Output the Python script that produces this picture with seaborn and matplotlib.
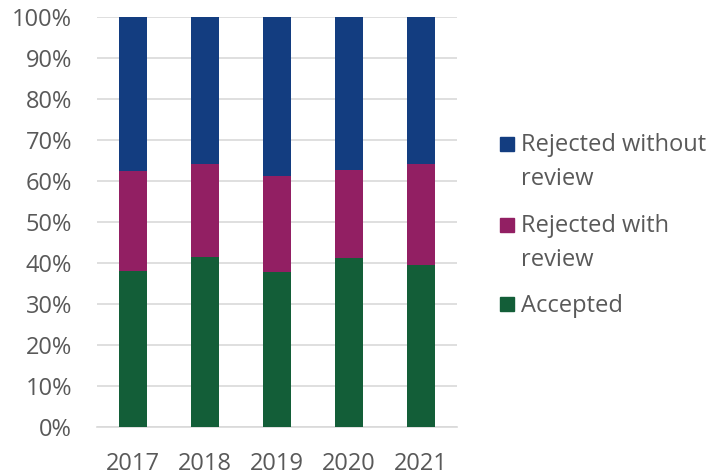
import matplotlib
matplotlib.use("Agg")
import matplotlib.pyplot as plt
from matplotlib.lines import Line2D
from matplotlib.legend_handler import HandlerLine2D
import seaborn as sns
import pandas as pd
import numpy as np

years = ["2017", "2018", "2019", "2020", "2021"]
accepted = [38.0, 41.4, 37.9, 41.3, 39.6]
rejected_with_review = [24.4, 22.8, 23.2, 21.4, 24.6]
rejected_without_review = [37.6, 35.8, 38.9, 37.3, 35.8]
series_labels = ["Rejected without\nreview", "Rejected with\nreview", "Accepted"]

c_green = "#135E38"
c_purple = "#921F63"
c_blue = "#133D80"
text_col = "#595959"

sns.set_theme(style="white")
plt.rcParams["font.family"] = ["Open Sans", "DejaVu Sans"]

df = pd.DataFrame({
    "year": years,
    "acc": accepted,
    "rwr": rejected_with_review,
    "rwo": rejected_without_review,
})
df["top"] = df["acc"] + df["rwr"] + df["rwo"]
df["mid"] = df["acc"] + df["rwr"]

fig = plt.figure(figsize=(7.12, 4.76), dpi=100)
ax = fig.add_axes([97/712, 1 - 427/476, 360/712, 410/476])

w = 0.4
sns.barplot(data=df, x="year", y="top", color=c_blue, width=w, ax=ax,
            saturation=1, edgecolor="none", zorder=3)
sns.barplot(data=df, x="year", y="mid", color=c_purple, width=w, ax=ax,
            saturation=1, edgecolor="none", zorder=3)
sns.barplot(data=df, x="year", y="acc", color=c_green, width=w, ax=ax,
            saturation=1, edgecolor="none", zorder=3)

ax.set_xlim(-0.5, 4.5)
ax.set_ylim(0, 100)
ax.set_yticks(np.arange(0, 101, 10))
ax.set_yticklabels([f"{v}%" for v in range(0, 101, 10)])
ax.yaxis.grid(True, color="#D9D9D9", linewidth=1.2, zorder=0)
ax.set_axisbelow(True)
for s in ["top", "right", "left"]:
    ax.spines[s].set_visible(False)
ax.spines["bottom"].set_color("#D9D9D9")
ax.spines["bottom"].set_linewidth(1.2)
ax.spines["bottom"].set_zorder(1)
ax.tick_params(axis="both", length=0, labelsize=17, labelcolor=text_col)
ax.tick_params(axis="y", pad=18)
ax.tick_params(axis="x", pad=18)
ax.set_xlabel("")
ax.set_ylabel("")


class ShiftedHandler(HandlerLine2D):
    def __init__(self, dy=0.0, **kw):
        super().__init__(**kw)
        self.dy = dy

    def create_artists(self, legend, orig_handle, xdescent, ydescent,
                       width, height, fontsize, trans):
        return super().create_artists(legend, orig_handle, xdescent,
                                      ydescent - 2 * self.dy, width, height,
                                      fontsize, trans)


handles = [
    Line2D([], [], marker="s", linestyle="none", markersize=9.5, color=c_blue),
    Line2D([], [], marker="s", linestyle="none", markersize=9.5, color=c_purple),
    Line2D([], [], marker="s", linestyle="none", markersize=9.5, color=c_green),
]
hmap = {handles[0]: ShiftedHandler(dy=13.5),
        handles[1]: ShiftedHandler(dy=13.5),
        handles[2]: ShiftedHandler(dy=0)}
leg = fig.legend(handles, series_labels, handler_map=hmap,
                 loc="upper left", bbox_to_anchor=(500/712, 1 - 133/476),
                 frameon=False, fontsize=17, labelcolor=text_col,
                 handlelength=0.6, handletextpad=0.3, labelspacing=0.95,
                 borderpad=0, borderaxespad=0)
for t in leg.get_texts():
    t.set_linespacing(1.57)

fig.savefig("out.png", dpi=100)
